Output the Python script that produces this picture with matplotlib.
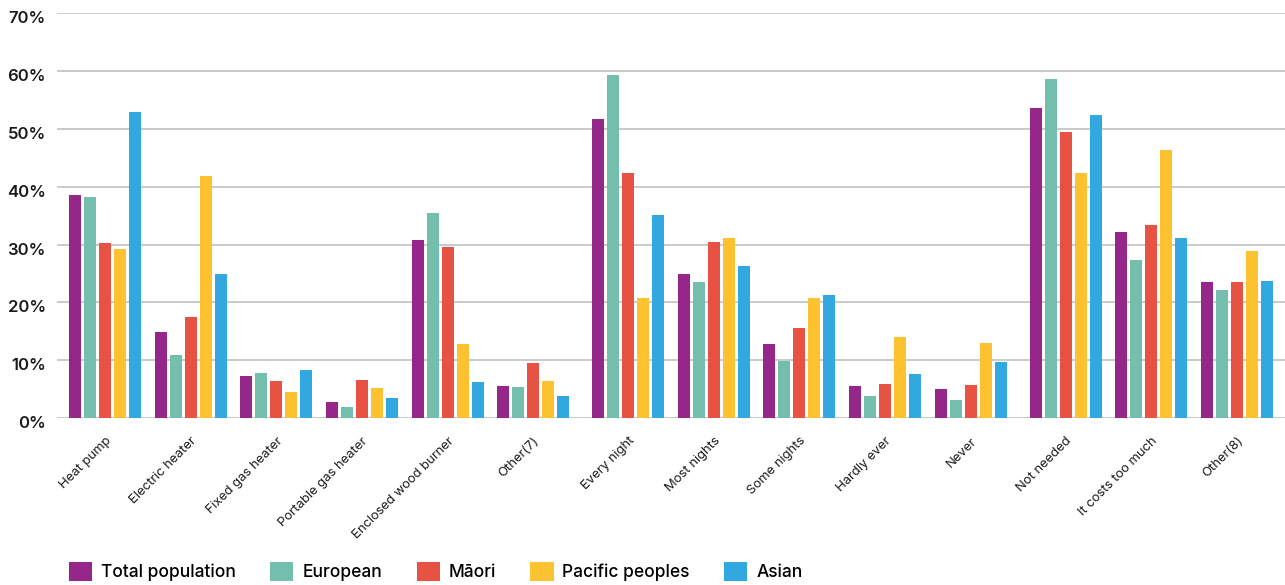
import numpy as np
import matplotlib
matplotlib.use("Agg")
import matplotlib.pyplot as plt
import matplotlib.transforms as mtransforms
from matplotlib.patches import Patch

plt.rcParams["font.family"] = ["Inter", "DejaVu Sans"]

categories = ["Heat pump", "Electric heater", "Fixed gas heater", "Portable gas heater",
              "Enclosed wood burner", "Other(7)", "Every night", "Most nights",
              "Some nights", "Hardly ever", "Never", "Not needed", "It costs too much",
              "Other(8)"]
# which block of questions each category belongs to
sections = [0, 0, 0, 0, 0, 0, 1, 1, 1, 1, 1, 2, 2, 2]

groups = ["Total population", "European", "Māori", "Pacific peoples", "Asian"]
colors = ["#95268A", "#74BEAE", "#E85243", "#FEC130", "#32A8E0"]

total = [38.5, 14.9, 7.3, 2.8, 30.8, 5.6, 51.7, 24.9, 12.8, 5.6, 5.1, 53.6, 32.2, 23.5]
european = [38.2, 10.9, 7.8, 1.9, 35.4, 5.4, 59.3, 23.5, 9.9, 3.9, 3.2, 58.6, 27.3, 22.1]
maori = [30.3, 17.5, 6.4, 6.6, 29.6, 9.5, 42.3, 30.4, 15.6, 5.9, 5.7, 49.4, 33.4, 23.5]
pacific = [29.2, 41.8, 4.5, 5.2, 12.8, 6.4, 20.8, 31.1, 20.8, 14.0, 13.0, 42.3, 46.3, 28.9]
asian = [52.9, 24.9, 8.3, 3.5, 6.3, 3.9, 35.1, 26.3, 21.3, 7.7, 9.7, 52.4, 31.1, 23.7]
series = [total, european, maori, pacific, asian]

yticks = [0, 10, 20, 30, 40, 50, 60, 70]

fig = plt.figure(figsize=(12.85, 5.85), dpi=100)
ax = fig.add_axes([0.0444, 0.285, 0.9556, 0.693])

x = np.arange(len(categories)) + np.array(sections) * 0.11
width = 0.14
pitch = 0.175
for k, (vals, col) in enumerate(zip(series, colors)):
    ax.bar(x + (k - 2) * pitch, vals, width=width, color=col, label=groups[k], zorder=3)

ax.set_ylim(0, 70)
ax.set_xlim(x[0] - 0.561, x[-1] + 0.561)
ax.set_yticks(yticks)
ax.set_yticklabels([f"{t}%" for t in yticks], fontsize=12, fontweight="semibold", color="#1a1a1a")
ax.yaxis.grid(True, color="#c6c6c6", linewidth=1.3, zorder=0)
ax.tick_params(axis="y", length=0, pad=8)
# labels sit a little below their gridline in the original
shift = mtransforms.ScaledTranslation(0, -4 / 100, fig.dpi_scale_trans)
for lab in ax.get_yticklabels():
    lab.set_transform(lab.get_transform() + shift)

ax.set_xticks(x)
ax.set_xticklabels(categories, rotation=45, ha="right", va="top",
                   rotation_mode="anchor", fontsize=9.4, color="#1a1a1a")
ax.tick_params(axis="x", length=0, pad=12)

for s in ax.spines.values():
    s.set_visible(False)

handles = [Patch(facecolor=c, edgecolor="none") for c in colors]
fig.legend(handles, groups, loc="center left", bbox_to_anchor=(0.0537, 0.023),
           ncol=5, frameon=False, borderpad=0, borderaxespad=0,
           handlelength=1.33, handleheight=1.33, handletextpad=0.5,
           columnspacing=2.0, prop={"weight": "medium", "size": 12.5})

fig.savefig("out.png", dpi=100)
